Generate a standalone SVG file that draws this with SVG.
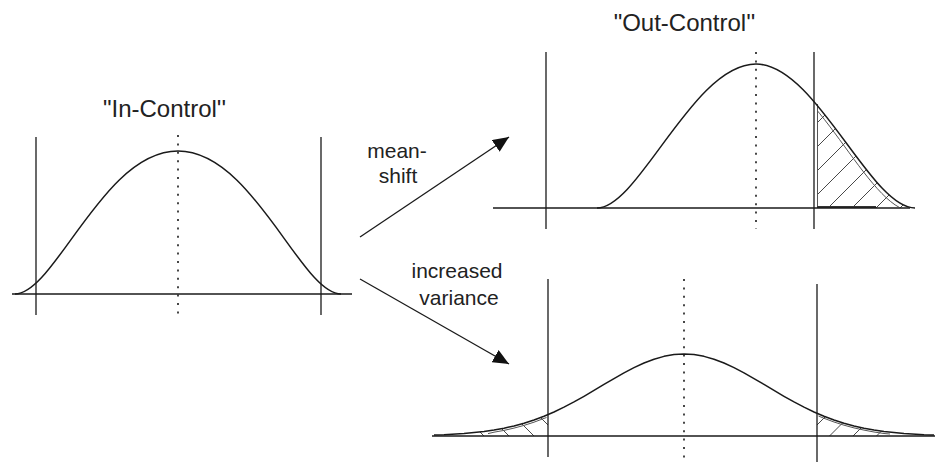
<svg xmlns="http://www.w3.org/2000/svg" width="936" height="462" viewBox="0 0 936 462">
<style>
.ax{stroke:#1a1a1a;stroke-width:1.3;fill:none}
.cv{stroke:#1a1a1a;stroke-width:1.5;fill:none;stroke-linejoin:round}
.dot{stroke:#1a1a1a;stroke-width:1.6;stroke-dasharray:2 6.4;fill:none}
.ht{stroke:#333;stroke-width:0.9;fill:none}
.io{stroke:#555;stroke-width:1;fill:none}
.t{font-family:"Liberation Sans",Arial,Helvetica,sans-serif;fill:#222;text-anchor:middle}
.title{font-size:24px}
.lab{font-size:21px}
.ar{stroke:#1a1a1a;stroke-width:1.3;fill:none;marker-end:url(#ah)}
</style>
<defs>
<marker id="ah" markerUnits="userSpaceOnUse" markerWidth="17" markerHeight="14" refX="16" refY="7" orient="auto" viewBox="0 0 17 14">
<path d="M0,0 L16,7 L0,14 Z" fill="#111"/>
</marker>
<clipPath id="trRect"><rect x="817" y="0" width="200" height="208"/></clipPath>
<clipPath id="trArea"><path d="M597,208 C639,208 693,64 756,64 C816,64 870,208 915,208 Z"/></clipPath>
<clipPath id="brL"><path d="M434,435.1 L444,434.75 L464,433.56 L484,431.5 L494,430.03 L504,428.19 L514,425.94 L524,423.21 L534,419.98 L544,416.23 L548,414.6 L548,436 L434,436 Z"/></clipPath>
<clipPath id="brR"><path d="M817,413.3 L824,416.23 L834,419.98 L844,423.21 L854,425.94 L864,428.19 L874,430.03 L884,431.5 L904,433.56 L924,434.75 L934,435.1 L934,436 L817,436 Z"/></clipPath>
<clipPath id="trOut"><rect x="817" y="0" width="200" height="207.5"/></clipPath>
</defs>

<g id="in-control">
<text class="t title" x="164.5" y="117">"In-Control''</text>
<line class="ax" x1="12" y1="294" x2="352" y2="294"/>
<line class="ax" x1="36" y1="137" x2="36" y2="315"/>
<line class="ax" x1="321" y1="137" x2="321" y2="315"/>
<line class="dot" x1="178" y1="135" x2="178" y2="316"/>
<path class="cv" d="M15,294 C55,294 103,151 178,151 C253,151 301,294 341,294"/>
</g>

<g id="out-control-mean-shift">
<text class="t title" x="684.5" y="31">"Out-Control''</text>
<g clip-path="url(#trRect)"><g clip-path="url(#trArea)">
<path class="ht" d="M730,210 L850,90 M754,210 L874,90 M778,210 L898,90 M802,210 L922,90 M826,210 L946,90 M850,210 L970,90 M874,210 L994,90 M898,210 L1018,90"/>
</g></g>
<g clip-path="url(#trOut)">
<path class="io" d="M755,68 C815,68 868,211 912,211"/>
</g>
<line class="io" x1="817.5" y1="104" x2="817.5" y2="207"/>
<line stroke="#333" stroke-width="2" x1="817" y1="207" x2="876" y2="207"/>
<line class="ax" x1="493" y1="208" x2="910" y2="208"/>
<line class="ax" x1="546" y1="52" x2="546" y2="229"/>
<line class="ax" x1="814" y1="52" x2="814" y2="229"/>
<line class="dot" x1="756" y1="52" x2="756" y2="229"/>
<path class="cv" d="M597,208 C639,208 693,64 756,64 C816,64 870,208 915,208"/>
</g>

<g id="out-control-increased-variance">
<g clip-path="url(#brL)">
<path class="ht" d="M448,400 L488,440 M473,400 L513,440 M498,400 L538,440 M523,400 L563,440"/>
</g>
<g clip-path="url(#brR)">
<path class="ht" d="M802,440 L842,400 M825.5,440 L865.5,400 M849,440 L889,400 M872.5,440 L912.5,400"/>
</g>
<path class="io" d="M488,433.6 L494,432.2 L504,430.4 L514,428.1 L524,425.4 L534,422.2 L544,418.4 L546.5,417.5"/>
<path class="io" d="M818.5,416 L824,418.3 L834,422 L844,425.2 L854,427.9 L864,430.1 L874,432 L884,433.5 L890,434"/>
<line class="ax" x1="432" y1="436" x2="935" y2="436"/>
<line class="ax" x1="548" y1="279" x2="548" y2="457"/>
<line class="ax" x1="817" y1="284" x2="817" y2="462"/>
<line class="dot" x1="684" y1="279" x2="684" y2="458"/>
<path class="cv" d="M434,435.1 L444,434.75 L464,433.56 L484,431.5 L494,430.03 L504,428.19 L514,425.94 L524,423.21 L534,419.98 L544,416.23 L554,411.95 L564,407.16 L574,401.93 L584,396.32 L594,390.45 L604,384.47 L614,378.54 L624,372.85 L634,367.61 L644,363 L654,359.18 L664,356.35 L674,354.59 L684,354 L694,354.59 L704,356.35 L714,359.18 L724,363 L734,367.61 L744,372.85 L754,378.54 L764,384.47 L774,390.45 L784,396.32 L794,401.93 L804,407.16 L814,411.95 L824,416.23 L834,419.98 L844,423.21 L854,425.94 L864,428.19 L874,430.03 L884,431.5 L904,433.56 L924,434.75 L934,435.1"/>
</g>

<g id="connectors">
<line class="ar" x1="360" y1="237" x2="509" y2="137"/>
<line class="ar" x1="360" y1="279" x2="509" y2="364"/>
</g>

<g id="labels">
<text class="t lab" x="397" y="158">mean-</text>
<text class="t lab" x="398" y="183">shift</text>
<text class="t lab" x="457" y="278">increased</text>
<text class="t lab" x="459" y="305">variance</text>
</g>
</svg>
